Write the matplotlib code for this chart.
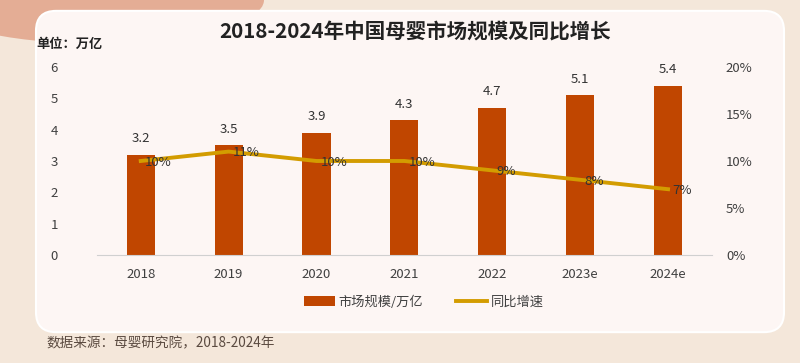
import matplotlib
matplotlib.use("Agg")
import matplotlib.pyplot as plt
from matplotlib.patches import FancyBboxPatch, Ellipse
from matplotlib.lines import Line2D
from matplotlib.patches import Patch

plt.rcParams['font.family'] = ['Noto Sans CJK SC', 'DejaVu Sans']

years = ['2018', '2019', '2020', '2021', '2022', '2023e', '2024e']
scale = [3.2, 3.5, 3.9, 4.3, 4.7, 5.1, 5.4]        # 万亿
growth = [10, 11, 10, 10, 9, 8, 7]                 # %

bar_c = '#c04600'
line_c = '#d39c00'
txt_c = '#333333'

fig = plt.figure(figsize=(8, 3.63), dpi=100)
fig.patch.set_facecolor('#f4e7da')

# background decorations
fig.patches.append(Ellipse((0.12, 1.0), 0.42, 0.24, transform=fig.transFigure,
                           facecolor='#e4ad95', edgecolor='none', zorder=0))
fig.patches.append(FancyBboxPatch((0.045, 0.085), 0.935, 0.885,
                                  boxstyle='round,pad=0,rounding_size=0.025',
                                  transform=fig.transFigure, facecolor='#fdf6f4',
                                  edgecolor='white', lw=1.5, zorder=1,
                                  mutation_aspect=2.2))

ax = fig.add_axes([0.121, 0.2975, 0.769, 0.518])
ax.set_facecolor('none')
ax.set_zorder(3)
x = range(len(years))
ax.bar(x, scale, width=0.32, color=bar_c, zorder=2)
for i, v in enumerate(scale):
    ax.text(i, v + 0.3, f'{v}', ha='center', va='bottom', fontsize=9.5, color=txt_c)
ax.set_ylim(0, 6)
ax.set_xlim(-0.5, len(years) - 0.5)
ax.set_yticks(range(7))
ax.set_xticks(list(x))
ax.set_xticklabels(years)
for s in ['top', 'right', 'left']:
    ax.spines[s].set_visible(False)
ax.spines['bottom'].set_color('#d0d0d0')
ax.tick_params(axis='both', length=0, labelsize=9.5, colors='#404040')
ax.tick_params(axis='y', pad=28)
ax.tick_params(axis='x', pad=9)

ax2 = ax.twinx()
ax2.plot(x, growth, color=line_c, lw=2.8, zorder=4)
for i, g in enumerate(growth):
    ax2.text(i + 0.05, g - 0.15, f'{g}%', ha='left', va='center', fontsize=9.5,
             color=txt_c, zorder=6)
ax2.set_ylim(0, 20)
ax2.set_yticks([0, 5, 10, 15, 20])
ax2.set_yticklabels([f'{t}%' for t in [0, 5, 10, 15, 20]])
for s in ['top', 'right', 'left', 'bottom']:
    ax2.spines[s].set_visible(False)
ax2.tick_params(axis='y', length=0, labelsize=9.5, colors='#404040', pad=10)

fig.text(0.519, 0.912, '2018-2024年中国母婴市场规模及同比增长', ha='center', va='center',
         fontsize=14.8, fontweight='bold', color='#222222')
fig.text(0.046, 0.88, '单位：万亿', ha='left', va='center', fontsize=9.5,
         fontweight='bold', color='#222222')
fig.text(0.058, 0.055, '数据来源：母婴研究院，2018-2024年', ha='left', va='center',
         fontsize=9.8, color='#5a4a40')

handles = [Patch(facecolor=bar_c, label='市场规模/万亿'),
           Line2D([0], [0], color=line_c, lw=2.8, label='同比增速')]
fig.legend(handles=handles, loc='center', bbox_to_anchor=(0.53, 0.168), ncol=2,
           frameon=False, fontsize=9.5, handlelength=2.3, columnspacing=2.5,
           handletextpad=0.3, labelcolor='#404040')

fig.savefig('out.png', dpi=100, facecolor=fig.get_facecolor())
